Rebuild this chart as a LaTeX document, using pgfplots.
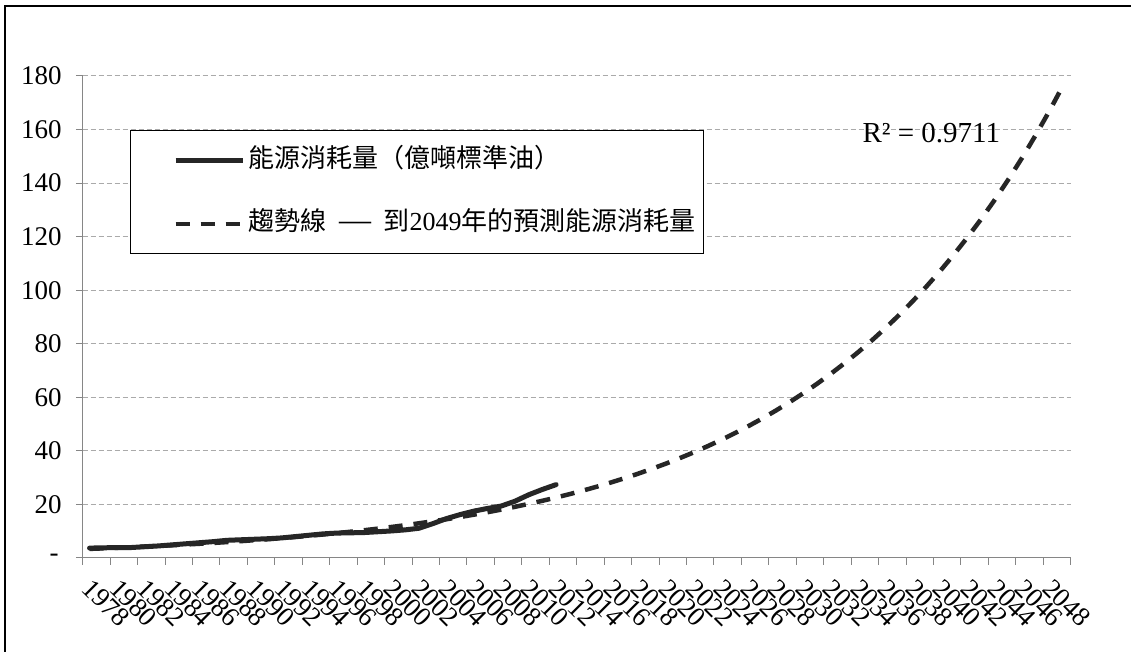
\documentclass[border=0pt]{standalone}
\usepackage{fontspec}
\setmainfont{Liberation Serif}
\newfontfamily\cjk{Noto Sans CJK TC}
\usepackage{pgfplots}
\pgfplotsset{compat=1.18}
\definecolor{lineblack}{HTML}{262626}
\definecolor{axisgray}{HTML}{868686}
\definecolor{gridgray}{HTML}{AAAAAA}

\pgfplotstableread{
year value
1978 3.7
1979 3.8
1980 3.9
1981 3.9
1982 4.2
1983 4.5
1984 4.9
1985 5.3
1986 5.7
1987 6.1
1988 6.6
1989 6.8
1990 7.0
1991 7.2
1992 7.5
1993 8.0
1994 8.5
1995 9.0
1996 9.3
1997 9.4
1998 9.5
1999 9.8
2000 10.1
2001 10.5
2002 11.1
2003 12.8
2004 14.7
2005 16.2
2006 17.5
2007 18.5
2008 19.4
2009 21.2
2010 23.6
2011 25.6
2012 27.4
}\datatable

\pgfplotstableread{
year value
1978 3.40
1979 3.60
1980 3.81
1981 4.02
1982 4.25
1983 4.50
1984 4.75
1985 5.03
1986 5.31
1987 5.62
1988 5.94
1989 6.28
1990 6.64
1991 7.02
1992 7.42
1993 7.84
1994 8.29
1995 8.77
1996 9.27
1997 9.80
1998 10.36
1999 10.95
2000 11.58
2001 12.24
2002 12.95
2003 13.69
2004 14.47
2005 15.30
2006 16.17
2007 17.10
2008 18.07
2009 19.11
2010 20.20
2011 21.36
2012 22.58
2013 23.87
2014 25.24
2015 26.68
2016 28.21
2017 29.82
2018 31.53
2019 33.34
2020 35.24
2021 37.26
2022 39.39
2023 41.65
2024 44.03
2025 46.55
2026 49.21
2027 52.03
2028 55.01
2029 58.16
2030 61.48
2031 65.00
2032 68.72
2033 72.66
2034 76.81
2035 81.21
2036 85.86
2037 90.77
2038 95.97
2039 101.46
2040 107.26
2041 113.40
2042 119.89
2043 126.75
2044 134.01
2045 141.68
2046 149.78
2047 158.36
2048 167.42
2049 177.00
}\trendtable

\begin{document}
\begin{tikzpicture}
\useasboundingbox (0,0) rectangle (565.5pt,326pt);
\fill[white] (0,0) rectangle (565.5pt,326pt);
\draw[line width=1pt, black] (2.5pt,0pt) -- (2.5pt,322.75pt) -- (565.5pt,322.75pt);
\begin{axis}[
  at={(41.35pt,47pt)}, anchor=south west,
  scale only axis, width=494pt, height=241pt,
  xmin=1977.5, xmax=2049.5, ymin=0, ymax=180,
  axis x line*=bottom, axis y line*=left,
  axis line style={axisgray, line width=0.5pt},
  tick style={axisgray, line width=0.5pt},
  tick align=outside, major tick length=3.4pt,
  xtick={1977.5,1979.5,...,2049.5}, xticklabels={},
  extra x ticks={1978,1980,...,2048},
  extra x tick labels={1978,1980,1982,1984,1986,1988,1990,1992,1994,1996,1998,2000,2002,2004,2006,2008,2010,2012,2014,2016,2018,2020,2022,2024,2026,2028,2030,2032,2034,2036,2038,2040,2042,2044,2046,2048},
  extra x tick style={major tick length=0pt},
  xticklabel style={xshift=2pt, yshift=-9.5pt, rotate=-45, anchor=north west, inner sep=0pt, font=\fontsize{13.5pt}{16pt}\selectfont},
  ytick={0,20,...,180},
  yticklabels={{-\kern1.5pt},20,40,60,80,100,120,140,160,180},
  yticklabel style={inner sep=0pt, anchor=east, xshift=-7pt, font=\fontsize{13.5pt}{16pt}\selectfont},
  ymajorgrids,
  major grid style={gridgray, dash pattern=on 2.5pt off 1.5pt, line width=0.5pt},
  legend cell align=left,
  legend style={at={(0.0479,0.887)}, anchor=north west, draw=black, line width=0.5pt, fill=white,
    inner xsep=4pt, inner ysep=8.5pt, row sep=18.5pt,
    font=\fontsize{13pt}{15pt}\selectfont,
    nodes={inner sep=0pt, text height=10pt, text depth=3pt}},
  legend image code/.code={\path[draw=none] (0pt,0pt) -- (55pt,0pt); \draw[#1] (18.5pt,0pt) -- (52pt,0pt);},
]
\addlegendimage{lineblack, line width=2.5pt}
\addlegendentry{{\cjk 能源消耗量（億噸標準油）}}
\addlegendimage{lineblack, line width=2.25pt, dash pattern=on 7pt off 5.5pt}
\addlegendentry{{\cjk 趨勢線}\hspace{3pt} {\fontsize{16pt}{16pt}\selectfont —} \hspace{3pt}{\cjk 到}2049{\cjk 年的預測能源消耗量}}

\addplot[lineblack, line width=2.25pt, dash pattern=on 7pt off 5.5pt, forget plot] table[x=year, y=value] {\trendtable};
\addplot[lineblack, line width=2.5pt, line join=round, line cap=round, forget plot] table[x=year, y=value] {\datatable};

\node[anchor=base west, inner sep=0pt, font=\fontsize{14.5pt}{17pt}\selectfont] at (axis cs:2034.3,155.3) {R² = 0.9711};
\end{axis}
\end{tikzpicture}
\end{document}
